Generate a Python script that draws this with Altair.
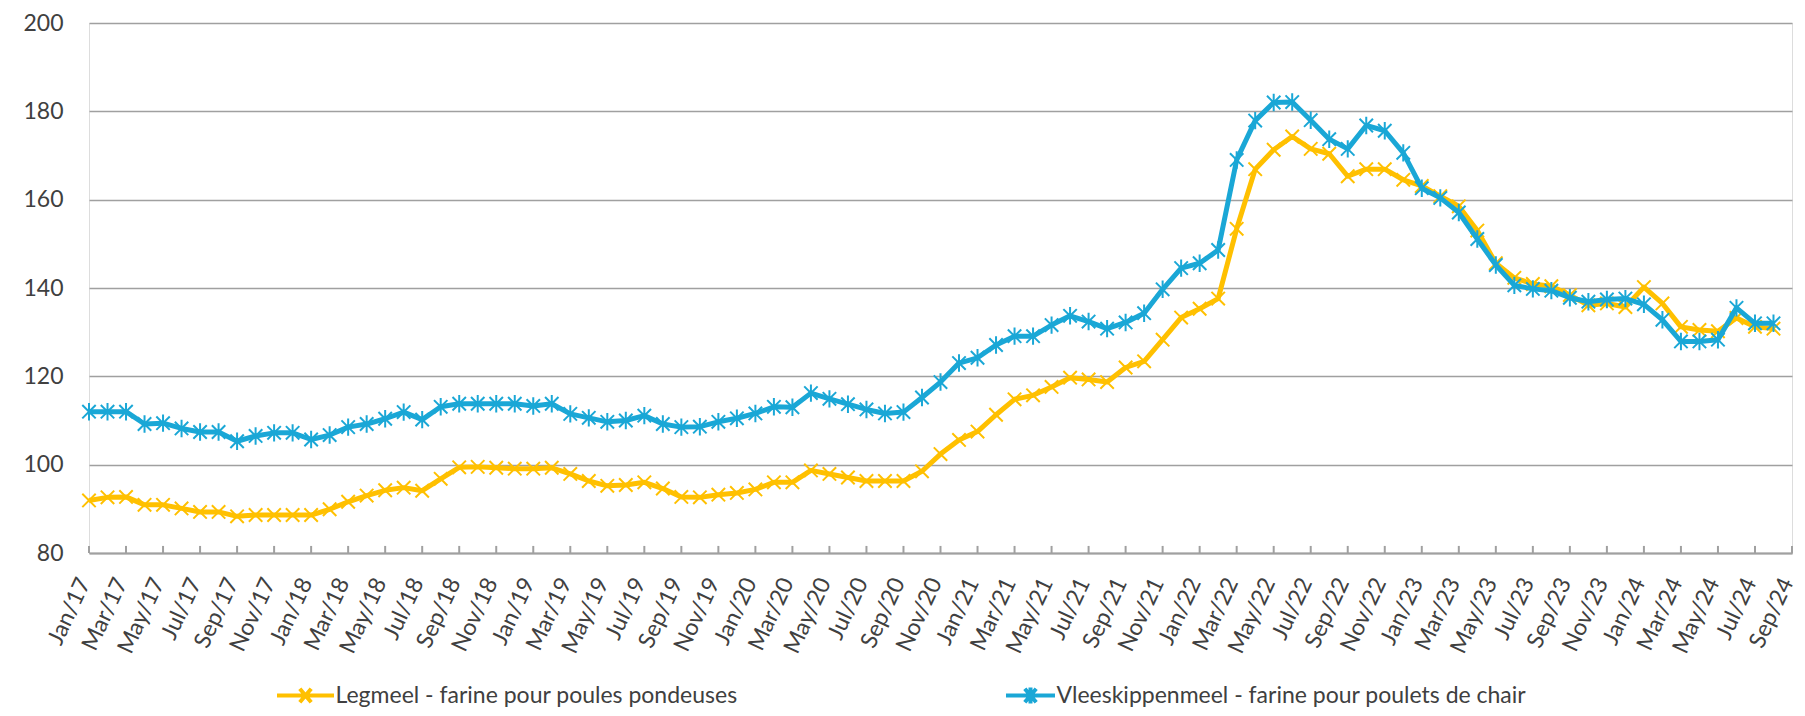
import altair as alt
import pandas as pd

month_names = ["Jan", "Feb", "Mar", "Apr", "May", "Jun", "Jul", "Aug", "Sep", "Oct", "Nov", "Dec"]
labels = [f"{m}/{y}" for y in range(17, 25) for m in month_names][:93]  # Jan/17 .. Sep/24

S1 = "Legmeel - farine pour poules pondeuses"
S2 = "Vleeskippenmeel - farine pour poulets de chair"

legmeel = [91.9, 92.6, 92.7, 90.9, 90.9, 90.1, 89.3, 89.3, 88.3, 88.6, 88.6, 88.6,
           88.6, 89.9, 91.6, 93.0, 94.2, 94.8, 94.1, 96.8, 99.4, 99.5, 99.3, 99.1,
           99.1, 99.3, 97.9, 96.3, 95.2, 95.4, 96.0, 94.6, 92.7, 92.6, 93.2, 93.6,
           94.4, 96.0, 96.0, 98.7, 97.9, 97.1, 96.3, 96.3, 96.3, 98.5, 102.4, 105.6,
           107.5, 111.3, 114.8, 115.7, 117.6, 119.7, 119.3, 118.7, 122.0, 123.4, 128.3, 133.3,
           135.3, 137.6, 153.4, 166.9, 171.3, 174.3, 171.5, 170.4, 165.3, 166.9, 166.9, 164.5,
           163.1, 160.8, 158.5, 153.0, 145.6, 142.3, 140.9, 140.4, 138.4, 136.1, 136.5, 135.7,
           140.2, 136.5, 131.2, 130.5, 130.2, 133.2, 131.2, 130.8, None]

vlees = [112.0, 112.0, 112.0, 109.2, 109.4, 108.2, 107.4, 107.4, 105.3, 106.5, 107.2, 107.2,
         105.7, 106.7, 108.5, 109.2, 110.4, 111.9, 110.2, 113.1, 113.8, 113.8, 113.8, 113.8,
         113.3, 113.8, 111.5, 110.6, 109.7, 110.0, 111.1, 109.2, 108.5, 108.6, 109.7, 110.5,
         111.6, 113.1, 113.0, 116.2, 114.9, 113.7, 112.5, 111.6, 111.9, 115.2, 118.7, 123.0,
         124.2, 127.1, 129.1, 129.1, 131.6, 133.7, 132.4, 130.8, 132.2, 134.3, 139.7, 144.5,
         145.6, 148.6, 169.0, 177.9, 182.0, 182.1, 178.0, 173.7, 171.5, 176.8, 175.6, 170.6,
         162.6, 160.4, 157.1, 151.1, 145.2, 140.6, 139.8, 139.4, 137.8, 136.9, 137.4, 137.6,
         136.3, 132.8, 127.9, 127.9, 128.3, 135.5, 132.0, 132.0, None]

y_ticks = [80, 100, 120, 140, 160, 180, 200]

YELLOW = "#FFC000"
BLUE = "#1AA7D6"
GRID = "#A0A0A0"
TEXT = "#404040"
FONT = "Lato"

df1 = pd.DataFrame({"month": labels, "value": legmeel, "series": S1})
df2 = pd.DataFrame({"month": labels, "value": vlees, "series": S2})
df_ticks = pd.DataFrame({"month": labels[::2]})

W, H = 1703, 530

x_enc = alt.X(
    "month:N", sort=labels,
    scale=alt.Scale(type="point", domain=labels, padding=0),
    axis=alt.Axis(values=labels[::2], labelAngle=295, labelAlign="right",
                  labelBaseline="middle", labelPadding=26, labelOffset=-5, ticks=False,
                  domainColor=GRID, domainWidth=2, labelFont=FONT, labelFontSize=23,
                  labelColor=TEXT, grid=False, title=None, labelOverlap=False),
)
y_enc = alt.Y(
    "value:Q",
    scale=alt.Scale(domain=[80, 200], nice=False, zero=False),
    axis=alt.Axis(values=y_ticks, grid=True, gridColor=GRID, gridWidth=1.5,
                  domain=False, ticks=False, labelPadding=26, labelFont=FONT,
                  labelFontSize=23, labelColor=TEXT, title=None),
)

X_PATH = "M-1,-1L1,1M-1,1L1,-1"
AST_PATH = "M-1,-1L1,1M-1,1L1,-1M0,-1.3L0,1.3"
# legend symbols: a line segment with the series marker
LEG1 = "M-2,0L2,0M-0.4,-0.48L0.4,0.48M-0.4,0.48L0.4,-0.48"
LEG2 = "M-1.72,0L1.72,0M-0.4,-0.48L0.4,0.48M-0.4,0.48L0.4,-0.48M0,-0.56L0,0.56"

tick_layer = alt.Chart(df_ticks).mark_rule(color=GRID, strokeWidth=2).encode(
    x=alt.X("month:N", sort=labels, scale=alt.Scale(type="point", domain=labels, padding=0)),
    y=alt.Y("y0:Q", scale=alt.Scale(domain=[80, 200], nice=False, zero=False)),
    y2=alt.Y2("y1:Q"),
).transform_calculate(y0="80", y1="81.6")


def legend_for(name, color, path, x, offset):
    return alt.Color(
        "series:N",
        scale=alt.Scale(domain=[name], range=[color]),
        legend=alt.Legend(
            orient="none", legendX=x, legendY=656, title=None, padding=0,
            symbolType=path, symbolSize=812, symbolStrokeWidth=4,
            symbolStrokeColor=color, labelFont=FONT, labelFontSize=23,
            labelColor=TEXT, labelOffset=offset, labelLimit=800,
        ),
    )


line1 = alt.Chart(df1).mark_line(strokeWidth=5, strokeJoin="round").encode(
    x=x_enc, y=y_enc, color=legend_for(S1, YELLOW, LEG1, 200, 13.5))
pts1 = alt.Chart(df1).mark_point(shape=X_PATH, size=180, filled=False, color=YELLOW,
                                 strokeWidth=2, opacity=1).encode(x=x_enc, y=y_enc)
line2 = alt.Chart(df2).mark_line(strokeWidth=5, strokeJoin="round").encode(
    x=x_enc, y=y_enc, color=legend_for(S2, BLUE, LEG2, 925, 9.5))
pts2 = alt.Chart(df2).mark_point(shape=AST_PATH, size=180, filled=False, color=BLUE,
                                 strokeWidth=2, opacity=1).encode(x=x_enc, y=y_enc)

chart = alt.layer(tick_layer, line1, pts1, line2, pts2).resolve_scale(
    color="independent"
).properties(
    width=W, height=H,
    autosize=alt.AutoSizeParams(type="none"),
    padding={"left": 81, "top": 15, "right": 5, "bottom": 155},
).configure_view(stroke=None).configure(background="white")

chart.save("out.html", embed_options={"renderer": "svg", "actions": False})
